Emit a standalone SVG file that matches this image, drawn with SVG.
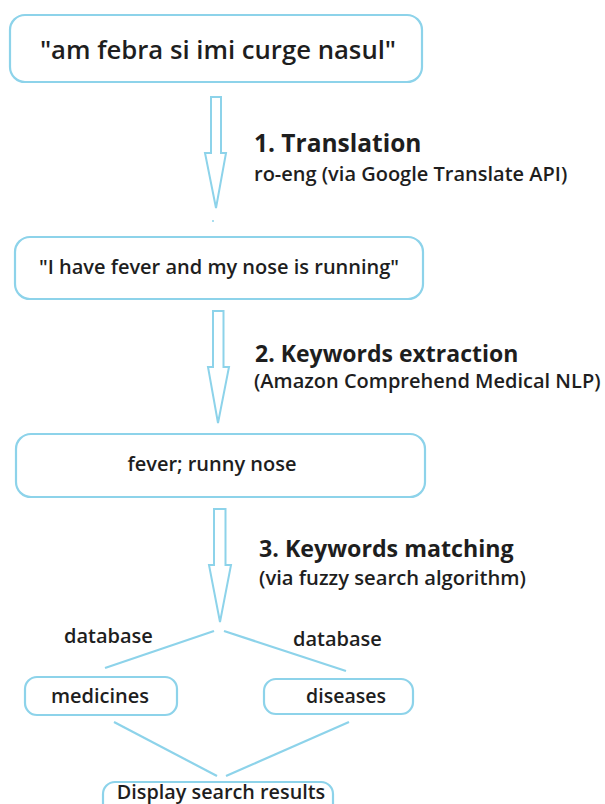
<svg xmlns="http://www.w3.org/2000/svg" width="605" height="804" viewBox="0 0 605 804">
<style>
.box{fill:#fff;stroke:#8dd3ea;stroke-width:2.2}
.ln{fill:none;stroke:#8dd3ea;stroke-width:2.2}
.arr{fill:#fff;stroke:#8dd3ea;stroke-width:2;stroke-linejoin:miter}
text{font-family:"Open Sans","Noto Sans",sans-serif;font-weight:600;fill:#1e1e1e}
.h{font-weight:700}
</style>
<rect width="605" height="804" fill="#fff"/>
<g id="connectors">
<polygon class="arr" points="211,97 221,97 221,153 226,153 216,208 205,153 211,153"/>
<circle cx="213" cy="221" r="1" fill="#8dd3ea"/>
<polygon class="arr" points="213,311 223.5,311 223.5,367 229,367 218,423 208,367 213,367"/>
<polygon class="arr" points="214,509 225.5,509 225.5,565 231,565 220,622 209,565 214,565"/>
<line class="ln" x1="214" y1="631" x2="105" y2="668"/>
<line class="ln" x1="224" y1="631" x2="346" y2="671"/>
<line class="ln" x1="114" y1="722" x2="217" y2="776"/>
<line class="ln" x1="349" y1="722" x2="226" y2="776"/>
</g>
<g id="n1">
<rect class="box" x="10" y="15" width="412" height="67" rx="15"/>
<text x="218" y="59" font-size="25.7" text-anchor="middle">"am febra si imi curge nasul"</text>
</g>
<g id="label1">
<text class="h" x="254" y="152" font-size="24.5">1. Translation</text>
<text x="254" y="181" font-size="20">ro-eng (via Google Translate API)</text>
</g>
<g id="n2">
<rect class="box" x="15" y="237" width="408" height="62" rx="15"/>
<text x="219" y="274" font-size="20" text-anchor="middle">"I have fever and my nose is running"</text>
</g>
<g id="label2">
<text class="h" x="255" y="362" font-size="23">2. Keywords extraction</text>
<text x="254" y="388" font-size="20">(Amazon Comprehend Medical NLP)</text>
</g>
<g id="n3">
<rect class="box" x="16" y="434" width="409" height="63" rx="15"/>
<text x="212" y="471" font-size="20" text-anchor="middle">fever; runny nose</text>
</g>
<g id="label3">
<text class="h" x="259" y="557" font-size="23.2">3. Keywords matching</text>
<text x="259" y="585" font-size="20.2">(via fuzzy search algorithm)</text>
</g>
<text x="64" y="643" font-size="20">database</text>
<text x="293" y="646" font-size="20">database</text>
<g id="medicines">
<rect class="box" x="25" y="677" width="152" height="38" rx="12"/>
<text x="100" y="703" font-size="20" text-anchor="middle">medicines</text>
</g>
<g id="diseases">
<rect class="box" x="264" y="679" width="149" height="35" rx="12"/>
<text x="346" y="703" font-size="19.5" text-anchor="middle">diseases</text>
</g>
<g id="results">
<rect class="box" x="103" y="782" width="230" height="40" rx="12"/>
<text x="221" y="799" font-size="19.8" text-anchor="middle">Display search results</text>
</g>
</svg>
